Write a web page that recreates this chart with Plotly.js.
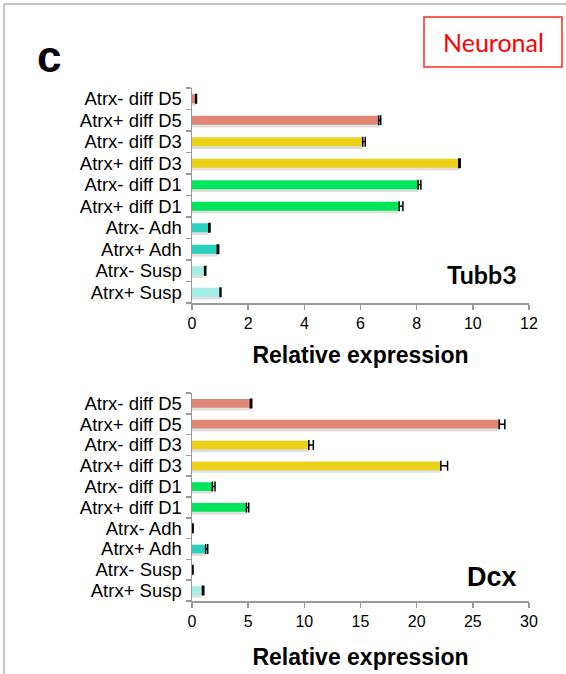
<!DOCTYPE html>
<html><head><meta charset="utf-8">
<script src="https://cdn.plot.ly/plotly-3.0.1.min.js"></script>
<style>html,body{margin:0;padding:0;background:#fff}#chart{width:566px;height:674px}</style>
</head><body><div id="chart"></div>
<script>
const categories = ["Atrx- diff D5","Atrx+ diff D5","Atrx- diff D3","Atrx+ diff D3","Atrx- diff D1","Atrx+ diff D1","Atrx- Adh","Atrx+ Adh","Atrx- Susp","Atrx+ Susp"];
const barColors = ["#E08676","#E08676","#EBD219","#EBD219","#00E65A","#00E65A","#2AD2BE","#2AD2BE","#A5EEE6","#A5EEE6"];
const tubb3Values = [0.13,6.65,6.08,9.5,8.05,7.38,0.6,0.9,0.45,1.0];
const tubb3Errors = [0.03,0.07,0.09,0.05,0.1,0.13,0.04,0.05,0.04,0.03];
const dcxValues = [5.2,27.35,10.4,22.15,1.82,4.85,0.05,1.22,0.05,0.93];
const dcxErrors = [0.12,0.5,0.4,0.6,0.23,0.2,0.05,0.18,0.04,0.12];
const xTicksTop = [0,2,4,6,8,10,12];
const xTicksBottom = [0,5,10,15,20,25,30];

const W = 566, H = 674;
const M = {l:192, r:37, t:88, b:73};
const pw = W - M.l - M.r, ph = H - M.t - M.b;
const px = v => (v - M.l) / pw;
const py = v => (H - M.b - v) / ph;

const FONT = "'Liberation Sans', Arial, sans-serif";
const BW = 0.42;

function shadow(x, y, xa, ya) {
  return {type:'bar', orientation:'h', x:x, y:y, xaxis:xa, yaxis:ya,
    width:BW, offset:-BW/2 + 0.13, marker:{color:'rgba(0,0,0,0.13)'}, hoverinfo:'skip', showlegend:false};
}
function main(x, y, e, xa, ya) {
  return {type:'bar', orientation:'h', x:x, y:y, xaxis:xa, yaxis:ya,
    width:BW, offset:-BW/2, marker:{color:barColors, line:{width:0}},
    error_x:{type:'data', symmetric:false, array:e, arrayminus:e.map(()=>0), color:'#000', thickness:1.5, width:5},
    showlegend:false};
}
const data = [
  shadow(tubb3Values, categories, 'x', 'y'),
  main(tubb3Values, categories, tubb3Errors, 'x', 'y'),
  shadow(dcxValues, categories, 'x2', 'y2'),
  main(dcxValues, categories, dcxErrors, 'x2', 'y2')
];

const axColor = '#999999';
function xax(range, ticks, anchor, standoff) {
  return {domain:[0,1], anchor:anchor, range:range, tickvals:ticks, ticktext:ticks.map(String),
    showline:true, linecolor:axColor, linewidth:1.5, ticks:'outside', ticklen:5, tickcolor:axColor, tickwidth:1.5,
    showgrid:false, zeroline:false, fixedrange:true,
    tickfont:{family:FONT, size:16, color:'#000'},
    title:{text:'<b>Relative expression</b>', font:{family:FONT, size:23, color:'#000'}, standoff:standoff}};
}
function yax(domain, anchor) {
  return {domain:domain, anchor:anchor, type:'category', categoryorder:'array', categoryarray:categories,
    tickmode:'array', tickvals:categories, ticktext:categories,
    autorange:'reversed', tickson:'boundaries', ticks:'outside', ticklen:5, tickcolor:axColor, tickwidth:1.5,
    ticklabelstandoff:5,
    showline:true, linecolor:axColor, linewidth:1.5, showgrid:false, zeroline:false, fixedrange:true,
    tickfont:{family:FONT, size:18.5, color:'#000'}};
}

const layout = {
  width:W, height:H, margin:M, paper_bgcolor:'#fff', plot_bgcolor:'rgba(0,0,0,0)',
  barmode:'overlay', showlegend:false,
  xaxis: xax([0,12], xTicksTop, 'y', 16),
  yaxis: yax([py(303), 1], 'x'),
  xaxis2: xax([0,30], xTicksBottom, 'y2', 20),
  yaxis2: yax([0, py(393)], 'x2'),
  shapes:[
    {type:'line', xref:'paper', yref:'paper', x0:px(4), x1:px(4), y0:py(4), y1:py(H), line:{color:'#c4c4c4', width:2}},
    {type:'line', xref:'paper', yref:'paper', x0:px(4), x1:px(W), y0:py(4), y1:py(4), line:{color:'#c4c4c4', width:2}},
    {type:'rect', xref:'paper', yref:'paper', x0:px(424), x1:px(562), y0:py(17), y1:py(67), line:{color:'#ff2a1a', width:1.5}}
  ],
  annotations:[
    {xref:'paper', yref:'paper', x:px(493), y:py(42), text:'Neuronal', showarrow:false, xanchor:'center', yanchor:'middle',
      font:{family:"Lato, 'Open Sans', sans-serif", size:25, color:'#ff0000'}},
    {xref:'paper', yref:'paper', x:px(49), y:py(56), text:'<b>c</b>', showarrow:false, xanchor:'center', yanchor:'middle',
      font:{family:FONT, size:44, color:'#000'}},
    {xref:'paper', yref:'paper', x:px(519), y:py(274), text:'<b>Tubb3</b>', showarrow:false, xanchor:'right', yanchor:'middle',
      font:{family:"Lato, 'Open Sans', sans-serif", size:25, color:'#000'}},
    {xref:'paper', yref:'paper', x:px(519), y:py(577), text:'<b>Dcx</b>', showarrow:false, xanchor:'right', yanchor:'middle',
      font:{family:FONT, size:27, color:'#000'}}
  ]
};
Plotly.newPlot('chart', data, layout, {staticPlot:true, displayModeBar:false});
</script></body></html>
